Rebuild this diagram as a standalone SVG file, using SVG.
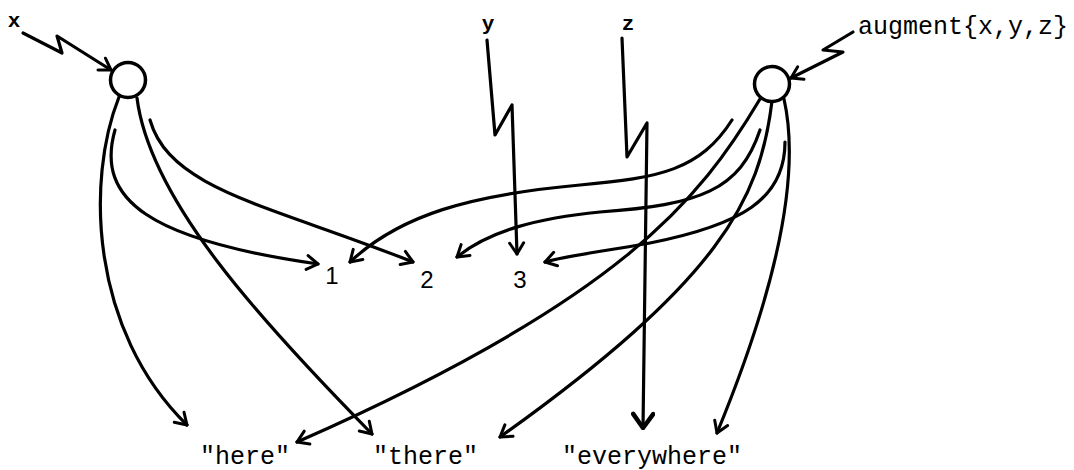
<svg xmlns="http://www.w3.org/2000/svg" width="1074" height="470" viewBox="0 0 1074 470">
<style>
.ln{fill:none;stroke:#000;stroke-width:3.2;stroke-linecap:round;stroke-linejoin:round}
.nd{fill:#fff;stroke:#000;stroke-width:3.5}
.tw{font-family:"Liberation Mono",monospace;fill:#000}
.hw{font-family:"Liberation Sans",sans-serif;fill:#000;font-size:24px}
</style>
<defs>
<marker id="ah" viewBox="-14 -9 16 18" markerWidth="16" markerHeight="18" refX="0" refY="0" orient="auto" markerUnits="userSpaceOnUse">
<path d="M-11,-7 L0,0 L-11,7" fill="none" stroke="#000" stroke-width="3" stroke-linecap="round" stroke-linejoin="round"/>
</marker>
<marker id="ahb" viewBox="-18 -12 20 24" markerWidth="20" markerHeight="24" refX="0" refY="0" orient="auto" markerUnits="userSpaceOnUse">
<path d="M-14,-10 L0,0 L-14,10" fill="none" stroke="#000" stroke-width="4.5" stroke-linecap="round" stroke-linejoin="round"/>
</marker>
</defs>
<g id="connectors">
<path class="ln" marker-end="url(#ah)" d="M23,33 L62,53 L57,36 L111,70"/>
<path class="ln" marker-end="url(#ah)" d="M853,32 L823,50 L843,52 L791,78"/>
<path class="ln" marker-end="url(#ah)" d="M487,40 L495,135 L512,105 L517,254"/>
<path class="ln" marker-end="url(#ahb)" d="M622,38 L627,157 L647,123 L643,428"/>
<path class="ln" marker-end="url(#ah)" d="M119,97 C86,180 90,330 187,425"/>
<path class="ln" marker-end="url(#ah)" d="M115,130 C95,200 150,240 318,264"/>
<path class="ln" marker-end="url(#ah)" d="M137,98 C150,200 260,320 372,434"/>
<path class="ln" marker-end="url(#ah)" d="M150,120 C170,190 270,205 413,262"/>
<path class="ln" marker-end="url(#ah)" d="M732,120 C700,170 660,178 580,185 C470,195 400,215 350,262"/>
<path class="ln" marker-end="url(#ah)" d="M760,130 C740,190 700,205 600,212 C540,218 490,230 457,257"/>
<path class="ln" marker-end="url(#ah)" d="M785,142 C785,200 740,225 650,243 C600,252 570,255 545,262"/>
<path class="ln" marker-end="url(#ah)" d="M760,99 C700,200 620,300 297,442"/>
<path class="ln" marker-end="url(#ah)" d="M772,101 C760,200 720,280 500,437"/>
<path class="ln" marker-end="url(#ah)" d="M784,99 C800,170 780,280 717,433"/>
</g>
<g id="node-left"><circle class="nd" cx="128" cy="80" r="17.5"/></g>
<g id="node-right"><circle class="nd" cx="772" cy="84" r="17.5"/></g>
<g id="label-x"><text class="tw" x="14" y="27" font-size="21" text-anchor="middle" font-weight="bold">x</text></g>
<g id="label-y"><text class="tw" x="488" y="30" font-size="21" text-anchor="middle" font-weight="bold">y</text></g>
<g id="label-z"><text class="tw" x="628" y="30" font-size="21" text-anchor="middle" font-weight="bold">z</text></g>
<g id="label-augment"><text class="tw" x="858" y="34" font-size="25">augment{x,y,z}</text></g>
<g id="label-1"><text class="hw" x="332" y="284" text-anchor="middle">1</text></g>
<g id="label-2"><text class="hw" x="427" y="288" text-anchor="middle">2</text></g>
<g id="label-3"><text class="hw" x="520" y="288" text-anchor="middle">3</text></g>
<g id="label-here"><text class="tw" x="200" y="464" font-size="25">"here"</text></g>
<g id="label-there"><text class="tw" x="373" y="464" font-size="25">"there"</text></g>
<g id="label-everywhere"><text class="tw" x="562" y="464" font-size="25">"everywhere"</text></g>
</svg>
